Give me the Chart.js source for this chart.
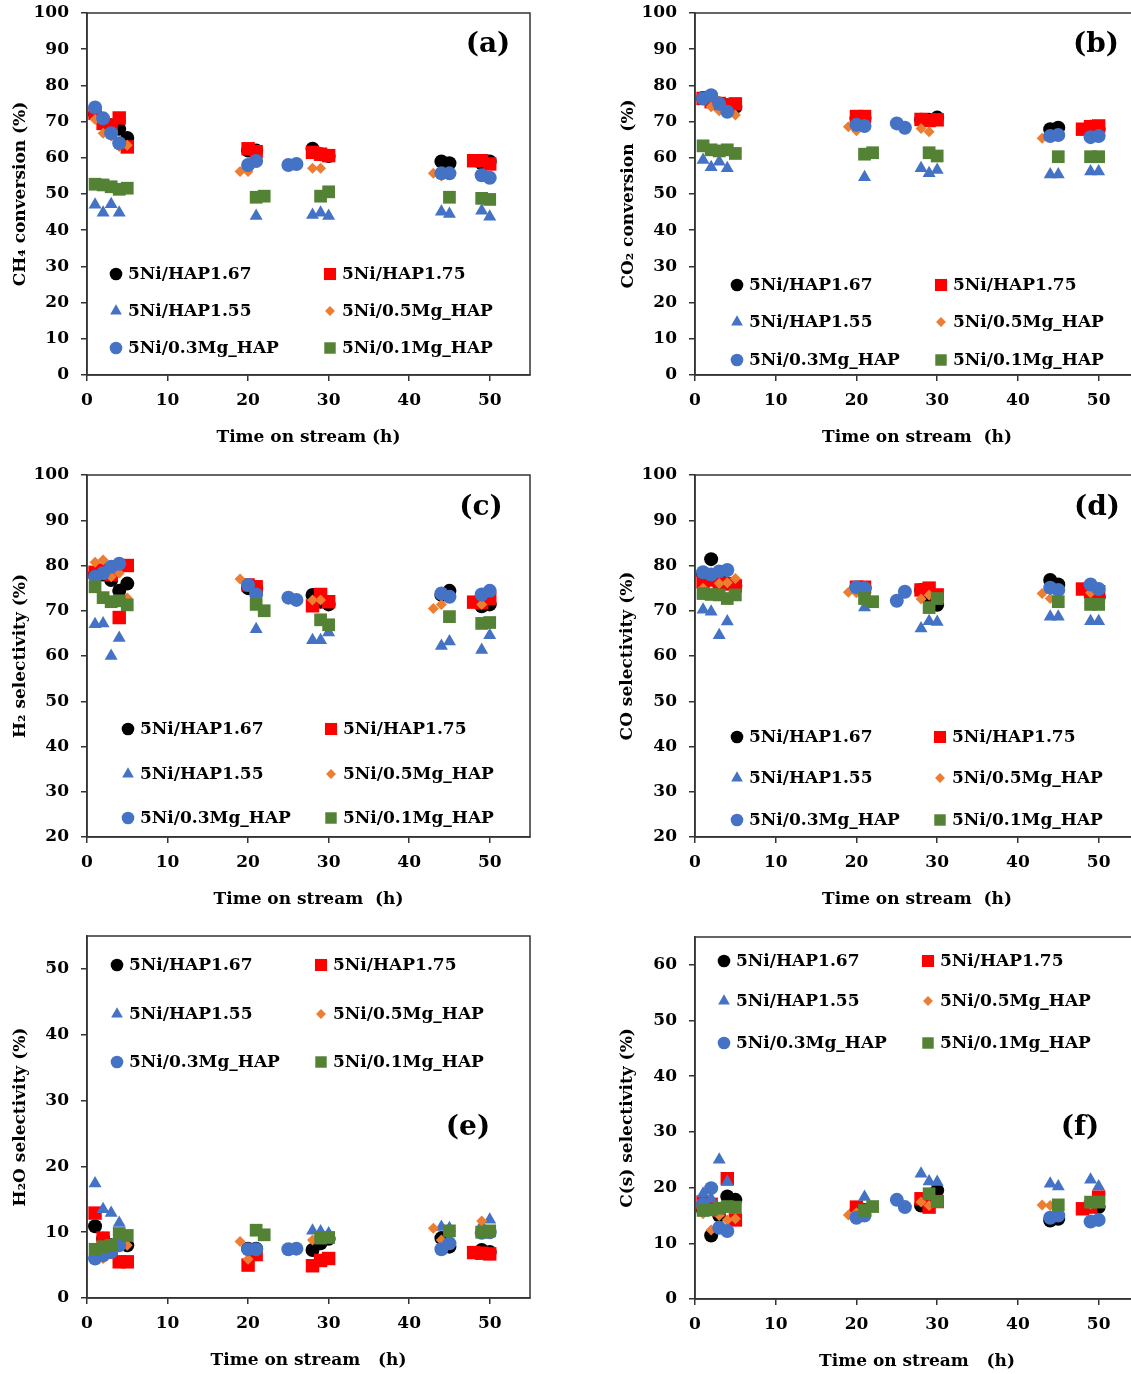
<!DOCTYPE html>
<html>
<head>
<meta charset="utf-8">
<script src="https://cdn.jsdelivr.net/npm/chart.js@4"></script>
<style>
html, body { margin: 0; padding: 0; background: #fff; overflow: hidden; width: 1131px; height: 1374px; }
canvas { position: absolute; }
</style>
</head>
<body>
<canvas id="pa" width="565" height="460" style="left:0px;top:0px"></canvas>
<canvas id="pb" width="620" height="460" style="left:565px;top:0px"></canvas>
<canvas id="pc" width="565" height="460" style="left:0px;top:462px"></canvas>
<canvas id="pd" width="620" height="460" style="left:565px;top:462px"></canvas>
<canvas id="pe" width="565" height="460" style="left:0px;top:923px"></canvas>
<canvas id="pf" width="620" height="460" style="left:565px;top:924px"></canvas>
<script>
// time on stream (h) for each catalyst
const t167 = [1, 2, 3, 4, 5, 20, 21, 28, 29, 30, 44, 45, 49, 50];
const t175 = [1, 2, 3, 4, 5, 20, 21, 28, 29, 30, 48, 49, 50];
const t155 = [1, 2, 3, 4, 21, 28, 29, 30, 44, 45, 49, 50];
const t05 = [1, 2, 3, 4, 5, 19, 20, 28, 29, 43, 44, 49];
const t03 = [1, 2, 3, 4, 20, 21, 25, 26, 44, 45, 49, 50];
const t01 = [1, 2, 3, 4, 5, 21, 22, 29, 30, 45, 49, 50];

// (a) CH4 conversion
const ch4_167 = [72, 70, 69, 68, 65.5, 62, 62, 62.5, 61, 60.5, 59, 58.5, 58.5, 59];
const ch4_175 = [72.3, 69.5, 69, 71, 63, 62.5, 61.7, 61.5, 61, 60.6, 59.2, 59.2, 58.3];
const ch4_155 = [47, 44.8, 47.2, 44.8, 43.9, 44.2, 44.8, 43.9, 45.1, 44.5, 45.4, 43.7];
const ch4_05 = [70.6, 66.8, 66, 63.1, 63.5, 56.2, 56.2, 57.1, 57.1, 55.7, 55, 55];
const ch4_03 = [73.9, 70.9, 66.8, 64, 58, 59.1, 58, 58.3, 55.7, 55.7, 55.2, 54.5];
const ch4_01 = [52.7, 52.5, 52, 51.3, 51.6, 49.1, 49.4, 49.4, 50.6, 49.1, 48.8, 48.5];

// (b) CO2 conversion
const co2_167 = [76.5, 76, 75, 74.5, 74, 71, 71, 70.5, 70.5, 71.1, 67.9, 68.3, 68.6, 68];
const co2_175 = [76.4, 75.5, 75, 74.5, 74.9, 71.4, 71.4, 70.6, 70.3, 70.5, 67.9, 68.6, 68.8];
const co2_155 = [59.4, 57.4, 58.9, 57.1, 54.6, 57.1, 55.7, 56.6, 55.4, 55.4, 56.2, 56.2];
const co2_05 = [76, 74.1, 73, 72.5, 71.8, 68.6, 67.5, 68.1, 67.2, 65.4, 66, 66];
const co2_03 = [76.4, 77.3, 74.9, 72.7, 69.1, 68.8, 69.5, 68.3, 66, 66.3, 65.7, 66];
const co2_01 = [63.3, 62.2, 61.9, 62.2, 61.2, 61, 61.4, 61.4, 60.5, 60.3, 60.3, 60.3];

// (c) H2 selectivity
const h2_167 = [78, 78, 76.8, 74.4, 76, 75, 75, 73.5, 72, 71.4, 73.5, 74.4, 71, 71.4];
const h2_175 = [78.5, 79, 78, 68.5, 80, 75.7, 75.3, 71.1, 73.6, 72, 71.9, 71.8, 72.7];
const h2_155 = [67, 67.2, 60, 64, 65.9, 63.5, 63.5, 65.2, 62.2, 63.2, 61.3, 64.6];
const h2_05 = [80.7, 81.2, 77.5, 78.3, 72.8, 77, 76, 72.4, 72.4, 70.5, 71.4, 71.4];
const h2_03 = [77.5, 78.3, 79.7, 80.4, 75.7, 73.6, 72.9, 72.4, 73.8, 73.1, 73.6, 74.4];
const h2_01 = [75.3, 72.9, 72, 72.2, 71.3, 71.4, 70, 68, 66.9, 68.7, 67.2, 67.4];

// (d) CO selectivity
const co_167 = [78, 81.4, 77, 76, 75.5, 75, 75, 74.6, 73, 71.3, 76.8, 75.8, 74, 73];
const co_175 = [76.4, 76.8, 76, 76, 75.5, 75.2, 75.2, 74.6, 75, 73.5, 74.8, 74.2, 74.2];
const co_155 = [70.2, 69.8, 64.6, 67.6, 70.7, 66.1, 67.7, 67.5, 68.7, 68.7, 67.7, 67.7];
const co_05 = [75, 78, 76, 76.2, 77.1, 74.1, 74, 72.6, 73.5, 73.8, 72.7, 74];
const co_03 = [78.5, 78, 78.7, 79, 75.2, 75, 72.2, 74.2, 75.1, 74.6, 75.8, 74.8];
const co_01 = [73.8, 73.6, 73.5, 72.7, 73.5, 72.7, 72, 70.7, 72.7, 72, 71.4, 71.4];

// (e) H2O selectivity
const h2o_167 = [10.9, 9, 8, 8.5, 8, 7.5, 7.5, 7.3, 8.3, 9, 9.1, 7.8, 7.3, 7];
const h2o_175 = [12.9, 9.1, 7, 5.5, 5.5, 5, 6.6, 4.9, 5.7, 6, 6.9, 6.8, 6.7];
const h2o_155 = [17.4, 13.5, 12.9, 11.4, 10, 10.2, 10.1, 9.8, 10.8, 10.6, 11, 11.9];
const h2o_05 = [7, 6, 7, 7.8, 8, 8.6, 5.9, 8.8, 9, 10.6, 8.8, 11.7];
const h2o_03 = [6, 6.5, 7, 8, 7.4, 7.4, 7.4, 7.5, 7.4, 8.3, 9.9, 10];
const h2o_01 = [7.4, 7.8, 8, 9.8, 9.5, 10.3, 9.6, 9.1, 9.2, 10.2, 10, 10.2];

// (f) C(s) selectivity
const cs_167 = [16, 11.4, 15, 18.4, 17.8, 16, 16, 16.8, 18, 19.5, 14.1, 14.4, 17, 16.5];
const cs_175 = [17.4, 17, 16, 21.6, 14.2, 16.5, 16, 18, 16.5, 17.5, 16.2, 16.5, 18.3];
const cs_155 = [18.9, 18, 25, 21, 18.3, 22.5, 21.1, 21, 20.7, 20.2, 21.4, 20.2];
const cs_05 = [15.3, 12.4, 15, 14.2, 14.4, 15.1, 15.5, 17.4, 16.8, 16.9, 16.8, 17];
const cs_03 = [17, 19.9, 12.8, 12.2, 14.6, 15, 17.8, 16.5, 14.6, 15, 13.9, 14.2];
const cs_01 = [15.9, 16, 16.3, 16.6, 16.5, 15.9, 16.6, 18.9, 17.5, 16.9, 17.4, 17.4];

const seriesNames = ['5Ni/HAP1.67', '5Ni/HAP1.75', '5Ni/HAP1.55', '5Ni/0.5Mg_HAP', '5Ni/0.3Mg_HAP', '5Ni/0.1Mg_HAP'];
const seriesTimes = [t167, t175, t155, t05, t03, t01];
const seriesColors = ['#000000', '#ff0000', '#4472c4', '#ed7d31', '#4472c4', '#548235'];
const seriesStyles = ['circle', 'rect', 'triangle', 'rectRot', 'circle', 'rect'];
const seriesRadius = [7, 9.5, 7.5, 5.5, 7, 9];

Chart.defaults.font.family = '"DejaVu Serif", serif';
Chart.defaults.font.weight = 'bold';
Chart.defaults.font.size = 17;
Chart.defaults.color = '#000';

// frame box, panel letter and the in-plot legend
const panelDeco = {
    id: 'panelDeco',
    afterDraw(chart, args, o) {
        const ctx = chart.ctx;
        const a = chart.chartArea;
        ctx.save();
        ctx.strokeStyle = '#333';
        ctx.lineWidth = 1.5;
        ctx.strokeRect(a.left, a.top, a.right - a.left, a.bottom - a.top);

        ctx.fillStyle = '#000';
        ctx.font = 'bold 28px "DejaVu Serif"';
        ctx.textAlign = 'center';
        ctx.textBaseline = 'middle';
        ctx.fillText(o.letter, o.letterX, o.letterY);

        ctx.font = 'bold 17px "DejaVu Serif"';
        ctx.textAlign = 'left';
        chart.data.datasets.forEach((ds, i) => {
            const row = Math.floor(i / 2), col = i % 2;
            const y = o.rows[row];
            ctx.fillStyle = ds.pointBackgroundColor;
            Chart.helpers.drawPoint(ctx, {
                pointStyle: ds.pointStyle, radius: ds.pointRadius * 0.9, rotation: 0, borderWidth: 0
            }, o.markX[col], y);
            ctx.fillStyle = '#000';
            ctx.fillText(ds.label, o.markX[col] + 12, y + 1);
        });
        ctx.restore();
    }
};

function makePanel(id, values, p) {
    const datasets = values.map((vals, i) => ({
        label: seriesNames[i],
        data: seriesTimes[i].map((t, k) => ({ x: t, y: vals[k] })),
        showLine: false,
        pointStyle: seriesStyles[i],
        pointRadius: seriesRadius[i],
        pointHoverRadius: seriesRadius[i],
        pointBackgroundColor: seriesColors[i],
        pointBorderWidth: 0,
        order: 6 - i
    }));
    const gridOpts = { drawOnChartArea: false, drawTicks: true, tickLength: 6, color: '#333', lineWidth: 1.5 };
    const borderOpts = { display: true, color: '#333', width: 1.5 };
    new Chart(document.getElementById(id), {
        type: 'scatter',
        data: { datasets: datasets },
        options: {
            responsive: false,
            animation: false,
            layout: { padding: { top: 13, right: p.padRight, left: 0, bottom: 0 } },
            plugins: {
                legend: { display: false },
                tooltip: { enabled: false },
                panelDeco: p.deco
            },
            scales: {
                x: {
                    type: 'linear', min: 0, max: 55,
                    ticks: { stepSize: 10, padding: 9 },
                    grid: gridOpts, border: borderOpts,
                    title: { display: true, text: p.xTitle, padding: { top: 0, bottom: 12 } },
                    afterBuildTicks: s => { s.ticks = s.ticks.filter(t => t.value <= 50); },
                    afterFit: s => { s.height = 85; s.paddingLeft = 0; s.paddingRight = 0; }
                },
                y: {
                    type: 'linear', min: p.yMin, max: p.yMax,
                    ticks: { stepSize: 10, padding: 12 },
                    grid: gridOpts, border: borderOpts,
                    title: { display: true, text: p.yTitle, padding: { top: p.yTitlePad, bottom: 0 } },
                    afterBuildTicks: s => { s.ticks = s.ticks.filter(t => t.value <= p.yTop); },
                    afterFit: s => { s.width = p.yWidth; s.paddingTop = 0; s.paddingBottom = 0; }
                }
            }
        },
        plugins: [panelDeco]
    });
}

makePanel('pa', [ch4_167, ch4_175, ch4_155, ch4_05, ch4_03, ch4_01], {
    yMin: 0, yMax: 100, yTop: 100, yWidth: 87, padRight: 35, yTitlePad: 10,
    yTitle: 'CH\u2084 conversion (%)', xTitle: 'Time on stream (h)',
    deco: { letter: '(a)', letterX: 488, letterY: 45, rows: [274, 311, 348], markX: [116, 330] }
});
makePanel('pb', [co2_167, co2_175, co2_155, co2_05, co2_03, co2_01], {
    yMin: 0, yMax: 100, yTop: 100, yWidth: 130, padRight: 46, yTitlePad: 53,
    yTitle: 'CO\u2082 conversion  (%)', xTitle: 'Time on stream  (h)',
    deco: { letter: '(b)', letterX: 531, letterY: 45, rows: [285, 322, 360], markX: [172, 376] }
});
makePanel('pc', [h2_167, h2_175, h2_155, h2_05, h2_03, h2_01], {
    yMin: 20, yMax: 100, yTop: 100, yWidth: 87, padRight: 35, yTitlePad: 10,
    yTitle: 'H\u2082 selectivity (%)', xTitle: 'Time on stream  (h)',
    deco: { letter: '(c)', letterX: 481, letterY: 46, rows: [267, 312, 356], markX: [128, 331] }
});
makePanel('pd', [co_167, co_175, co_155, co_05, co_03, co_01], {
    yMin: 20, yMax: 100, yTop: 100, yWidth: 130, padRight: 46, yTitlePad: 52,
    yTitle: 'CO selectivity (%)', xTitle: 'Time on stream  (h)',
    deco: { letter: '(d)', letterX: 532, letterY: 46, rows: [275, 316, 358], markX: [172, 375] }
});
makePanel('pe', [h2o_167, h2o_175, h2o_155, h2o_05, h2o_03, h2o_01], {
    yMin: 0, yMax: 55, yTop: 50, yWidth: 87, padRight: 35, yTitlePad: 10,
    yTitle: 'H\u2082O selectivity (%)', xTitle: 'Time on stream   (h)',
    deco: { letter: '(e)', letterX: 468, letterY: 205, rows: [42, 91, 139], markX: [117, 321] }
});
makePanel('pf', [cs_167, cs_175, cs_155, cs_05, cs_03, cs_01], {
    yMin: 0, yMax: 65, yTop: 60, yWidth: 130, padRight: 46, yTitlePad: 52,
    yTitle: 'C(s) selectivity (%)', xTitle: 'Time on stream   (h)',
    deco: { letter: '(f)', letterX: 515, letterY: 204, rows: [37, 77, 119], markX: [159, 363] }
});
</script>
</body>
</html>
